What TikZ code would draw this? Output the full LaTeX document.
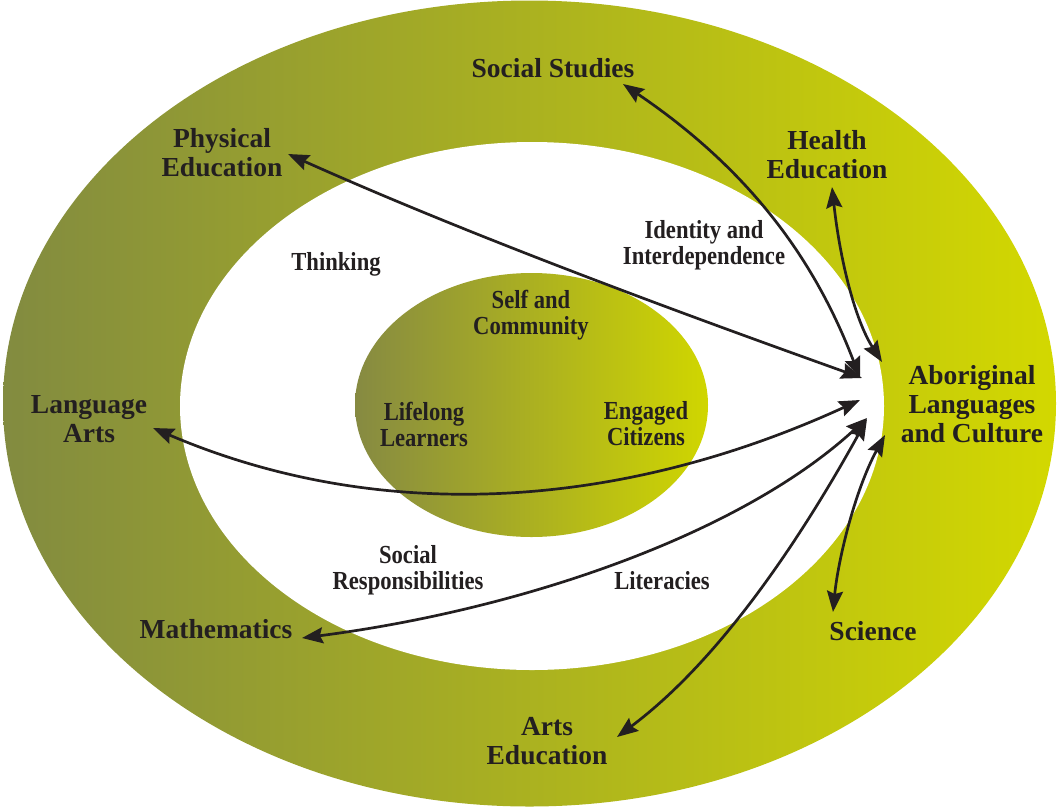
\documentclass[tikz,border=0pt]{standalone}
\usepackage{fontspec}
\setmainfont{Liberation Serif}
\newfontfamily\condserif{Liberation Serif}[FakeStretch=0.87]
\usetikzlibrary{arrows.meta}

\definecolor{bandL}{RGB}{130,139,64}
\definecolor{bandR}{RGB}{211,216,0}
\definecolor{coreL}{RGB}{134,138,66}
\definecolor{coreR}{RGB}{208,214,0}
\definecolor{ink}{RGB}{35,31,32}

\tikzset{
  subject/.style={text=ink, align=center, font=\fontsize{27.5}{29}\selectfont\bfseries, inner sep=0pt},
  theme/.style={text=ink, align=center, font=\condserif\fontsize{26}{26}\selectfont\bfseries, inner sep=0pt},
  link/.style={draw=ink, line width=2.7pt,
    {Stealth[length=21pt,width=16pt,inset=3pt]}-{Stealth[length=21pt,width=16pt,inset=3pt]}}
}

\begin{document}
\begin{tikzpicture}[x=1pt,y=-1pt]
\useasboundingbox (0,0) rectangle (1058,807);

% outer band, white ring and core
\shade[left color=bandL, right color=bandR] (529.5,403.5) ellipse [x radius=526.5, y radius=403];
\fill[white] (532,406) ellipse [x radius=352, y radius=264];
\shade[left color=coreL, right color=coreR] (531.5,405) ellipse [x radius=176.5, y radius=132];

% subject areas
\node[subject] (ss)   at (553,68)  {Social Studies};
\node[subject] (pe)   at (222,153) {Physical\\Education};
\node[subject] (he)   at (827,155) {Health\\Education};
\node[subject] (alc)  at (972,404) {Aboriginal\\Languages\\and Culture};
\node[subject] (la)   at (89,419)  {Language\\Arts};
\node[subject] (ma)   at (216,629) {Mathematics};
\node[subject] (sc)   at (873,631) {Science};
\node[subject] (ae)   at (547,741) {Arts\\Education};

% themes
\node[theme] (th)  at (336,264) {Thinking};
\node[theme] (ii)  at (704,245) {Identity and\\Interdependence};
\node[theme] (sac) at (531,315) {Self and\\Community};
\node[theme] (ll)  at (424,424) {Lifelong\\Learners};
\node[theme] (ec)  at (646,424) {Engaged\\Citizens};
\node[theme] (sr)  at (408,570) {Social\\Responsibilities};
\node[theme] (lit) at (662,581) {Literacies};

% arrow ends near the subject labels
\coordinate (ssE) at (623,84);
\coordinate (peE) at (288,154);
\coordinate (heE) at (832,187);
\coordinate (laE) at (153,428);
\coordinate (maE) at (302,638);
\coordinate (scE) at (833,612);
\coordinate (aeE) at (617,737);

% arrow ends at the hub beside Aboriginal Languages and Culture
\coordinate (hubHe) at (882,362);
\coordinate (hubSs) at (860,378);
\coordinate (hubPe) at (862,378);
\coordinate (hubLa) at (860,400);
\coordinate (hubMa) at (867,418);
\coordinate (hubAe) at (867,419);
\coordinate (hubSc) at (885,435);

\draw[link] (ssE) .. controls (750,170) and (815,260) .. (hubSs);
\draw[link] (heE) .. controls (840,260) and (855,320) .. (hubHe);
\draw[link] (peE) .. controls (480,240) and (700,320) .. (hubPe);
\draw[link] (laE) .. controls (380,525) and (620,510) .. (hubLa);
\draw[link] (maE) .. controls (520,610) and (740,535) .. (hubMa);
\draw[link] (aeE) .. controls (720,660) and (800,540) .. (hubAe);
\draw[link] (scE) .. controls (838,560) and (855,490) .. (hubSc);
\end{tikzpicture}
\end{document}
